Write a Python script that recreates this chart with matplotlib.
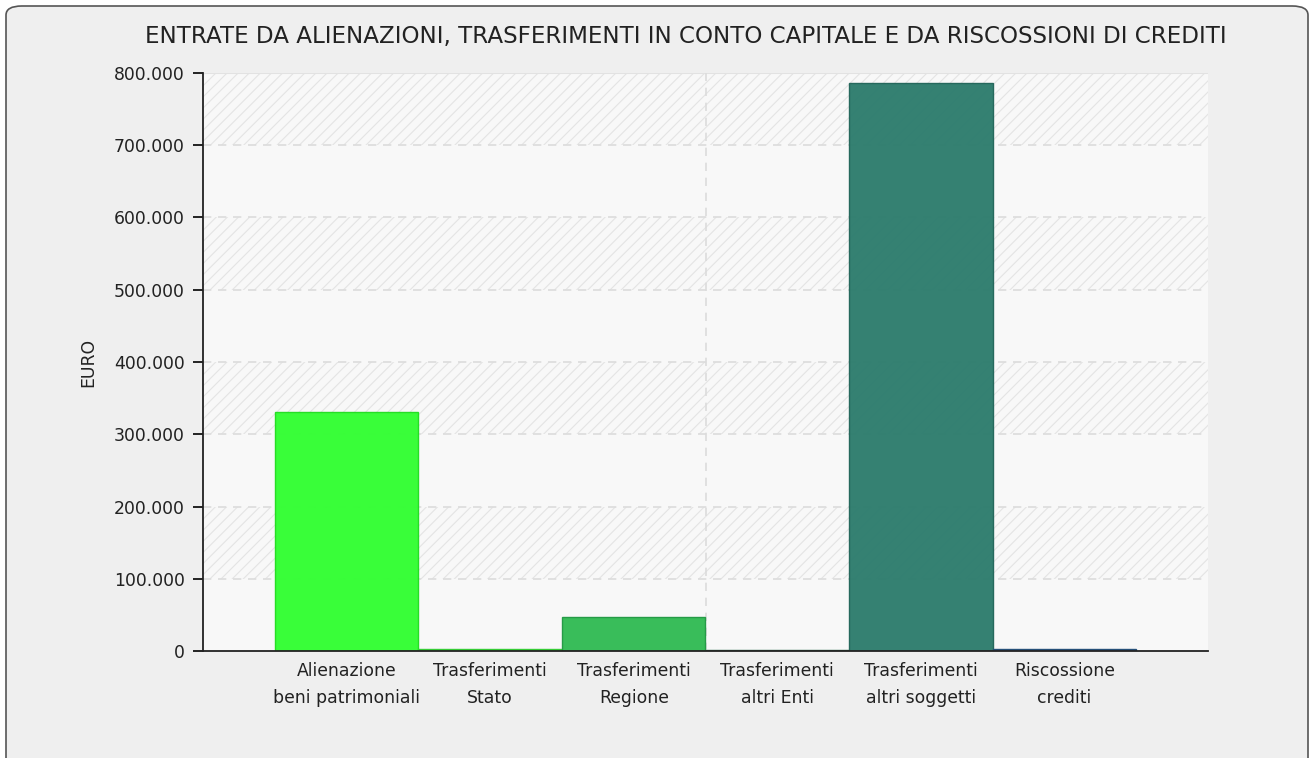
import matplotlib
matplotlib.use("Agg")
import matplotlib.pyplot as plt
from matplotlib.patches import FancyBboxPatch
from matplotlib.ticker import FuncFormatter

categories = ["Alienazione\nbeni patrimoniali", "Trasferimenti\nStato", "Trasferimenti\nRegione",
              "Trasferimenti\naltri Enti", "Trasferimenti\naltri soggetti", "Riscossione\ncrediti"]
values = [331000, 3000, 47000, 2000, 785500, 2500]
colors = ["#33FF33", "#44EE44", "#33BB55", "#2E8B57", "#2E7D6E", "#336699"]
edges = ["#22DD22", "#33CC33", "#229944", "#226644", "#23665A", "#224D77"]
yticks = [0, 100000, 200000, 300000, 400000, 500000, 600000, 700000, 800000]
title = "ENTRATE DA ALIENAZIONI, TRASFERIMENTI IN CONTO CAPITALE E DA RISCOSSIONI DI CREDITI"

plt.rcParams['hatch.linewidth'] = 0.8
fig = plt.figure(figsize=(13.14, 7.58), dpi=100)
fig.patch.set_facecolor("white")
frame = FancyBboxPatch((6/1314, -0.02), 1302/1314, 1 - 6/758 + 0.02,
                       boxstyle="round,pad=0,rounding_size=0.012",
                       transform=fig.transFigure, facecolor="#EFEFEF",
                       edgecolor="#555555", linewidth=1.2, zorder=0)
fig.patches.append(frame)

ax = fig.add_axes([203/1314, 1 - 651/758, (1208 - 203)/1314, (651 - 73)/758])
ax.set_zorder(2)
ax.set_facecolor("#F8F8F8")
ax.set_xlim(-1, 6)
ax.set_ylim(0, 800000)

for i in range(len(yticks) - 1):
    if i % 2 == 1:
        ax.axhspan(yticks[i], yticks[i + 1], facecolor="none", edgecolor="#E4E4E4",
                   hatch="///", linewidth=0, zorder=0.5)
for y in yticks[1:-1]:
    ax.axhline(y, color="#DCDCDC", linestyle=(0, (5, 4)), linewidth=1.2, zorder=0.6)
ax.axhline(800000, color="#E2E2E2", linewidth=1.5, zorder=0.6)
ax.axvline(2.5, color="#DCDCDC", linestyle=(0, (5, 4)), linewidth=1.2, zorder=0.6)

x = list(range(len(categories)))
ax.bar(x, values, width=1.0, color=colors, edgecolor=edges, linewidth=1.0,
       alpha=0.97, zorder=2)

ax.set_yticks(yticks)
ax.yaxis.set_major_formatter(FuncFormatter(lambda v, p: f"{int(v):,}".replace(",", ".")))
ax.set_xticks(x)
ax.set_xticklabels(categories, fontsize=12.4, color="#222222", linespacing=1.6)
ax.tick_params(axis="x", length=0, pad=8)
ax.tick_params(axis="y", length=7, width=1.2, labelsize=12.4, labelcolor="#222222", pad=6)
for s in ["top", "right"]:
    ax.spines[s].set_visible(False)
ax.spines["left"].set_linewidth(1.3)
ax.spines["bottom"].set_linewidth(1.3)
ax.spines["left"].set_color("#222222")
ax.spines["bottom"].set_color("#222222")
ax.set_ylabel("EURO", fontsize=12.4, color="#222222", labelpad=12)

fig.text(686/1314, 1 - 36/758, title, ha="center", va="center", fontsize=16.6, color="#222222")

fig.savefig("out.png", dpi=100, facecolor=fig.get_facecolor())
